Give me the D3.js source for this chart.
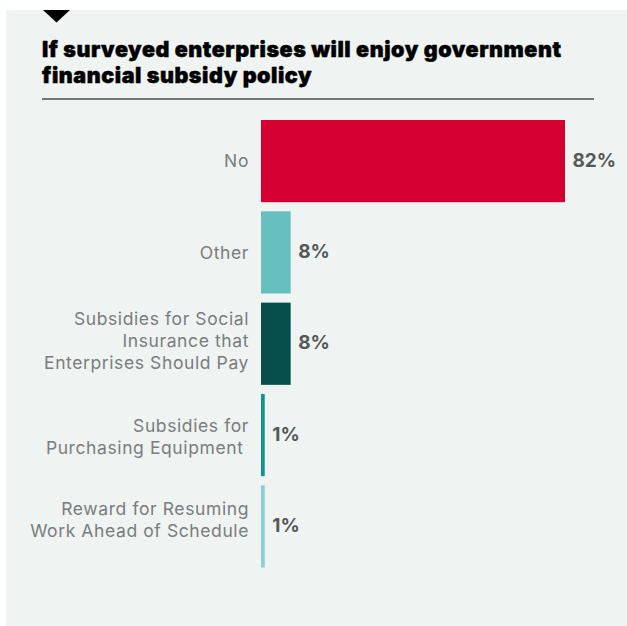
<!DOCTYPE html>
<html>
<head>
<meta charset="utf-8">
<script src="https://cdn.jsdelivr.net/npm/d3@7"></script>
<style>
  html, body { margin: 0; padding: 0; background: #ffffff; }
  svg { display: block; }
</style>
</head>
<body>
<svg id="chart" width="627" height="626"></svg>
<script>
// Survey answers, top to bottom
const categories = [
  ["No"],
  ["Other"],
  ["Subsidies for Social", "Insurance that", "Enterprises Should Pay"],
  ["Subsidies for", "Purchasing Equipment "],
  ["Reward for Resuming", "Work Ahead of Schedule"]
];
const shares = [82, 8, 8, 1, 1];
const barColors = ["#d50032", "#67bfc0", "#064f4c", "#0f958f", "#86d1d6"];
const titleLines = [
  "If surveyed enterprises will enjoy government",
  "financial subsidy policy"
];

// vertical nudges for each category label block (px)
const labelNudge = [6, 6.5, 3.6, 7.5, -0.4];

const svg = d3.select("#chart");
const W = 627, H = 626;
const FONT = "Inter, 'Noto Sans', sans-serif";

// panel background
svg.append("rect")
  .attr("x", 6).attr("y", 10)
  .attr("width", W - 6).attr("height", H - 10)
  .attr("fill", "#eff3f2");

// marker triangle
svg.append("path")
  .attr("d", "M43,10 L70,10 L56.5,22.5 Z")
  .attr("fill", "#000000");

// title, tracked out so the first line spans the rule width
const title = svg.append("text")
  .attr("font-family", FONT)
  .attr("font-weight", 900)
  .attr("font-size", 21.5)
  .attr("fill", "#000000")
  .attr("stroke", "#000000")
  .attr("stroke-width", 0.45)
  .attr("stroke-linejoin", "round");
title.selectAll("tspan")
  .data(titleLines)
  .join("tspan")
  .attr("x", 42)
  .attr("y", (d, i) => 57.3 + i * 26)
  .text(d => d);
{
  const first = title.select("tspan").node();
  const w = first.getComputedTextLength();
  const target = 519;
  const n = titleLines[0].length;
  title.attr("letter-spacing", (target - w) / (n - 1));
}

// rule under the title
svg.append("line")
  .attr("x1", 42).attr("x2", 594)
  .attr("y1", 99).attr("y2", 99)
  .attr("stroke", "#747474")
  .attr("stroke-width", 2);

const idx = d3.range(shares.length);

const x = d3.scaleLinear().domain([0, 82]).range([261, 565]);
const y = d3.scaleBand().domain(idx).range([120, 567.5]).paddingInner(0.1).paddingOuter(0);

// bars
svg.append("g")
  .selectAll("rect")
  .data(idx)
  .join("rect")
  .attr("x", x(0))
  .attr("y", i => y(i))
  .attr("width", i => Math.max(0, x(shares[i]) - x(0)))
  .attr("height", y.bandwidth())
  .attr("fill", i => barColors[i]);

// category labels
const lineH = 22;
const labels = svg.append("g")
  .attr("font-family", FONT)
  .attr("font-size", 17.5)
  .attr("letter-spacing", 0.6)
  .attr("fill", "#797d7d")
  .attr("text-anchor", "end");
labels.selectAll("text")
  .data(idx)
  .join("text")
  .attr("transform", i => {
    const cy = y(i) + y.bandwidth() / 2;
    const n = categories[i].length;
    return `translate(249,${cy - (n - 1) * lineH / 2 + labelNudge[i]})`;
  })
  .each(function (i) {
    d3.select(this).selectAll("tspan")
      .data(categories[i])
      .join("tspan")
      .attr("x", 0)
      .attr("dy", (d, j) => j === 0 ? 0 : lineH)
      .attr("xml:space", "preserve")
      .style("white-space", "pre")
      .text(d => d);
  });

// value labels
svg.append("g")
  .attr("font-family", FONT)
  .attr("font-size", 19)
  .attr("font-weight", 700)
  .attr("fill", "#555858")
  .selectAll("text")
  .data(idx)
  .join("text")
  .attr("x", i => x(shares[i]) + 7.5)
  .attr("y", i => y(i) + y.bandwidth() / 2 + 5.5)
  .text(i => shares[i] + "%");
</script>
</body>
</html>
